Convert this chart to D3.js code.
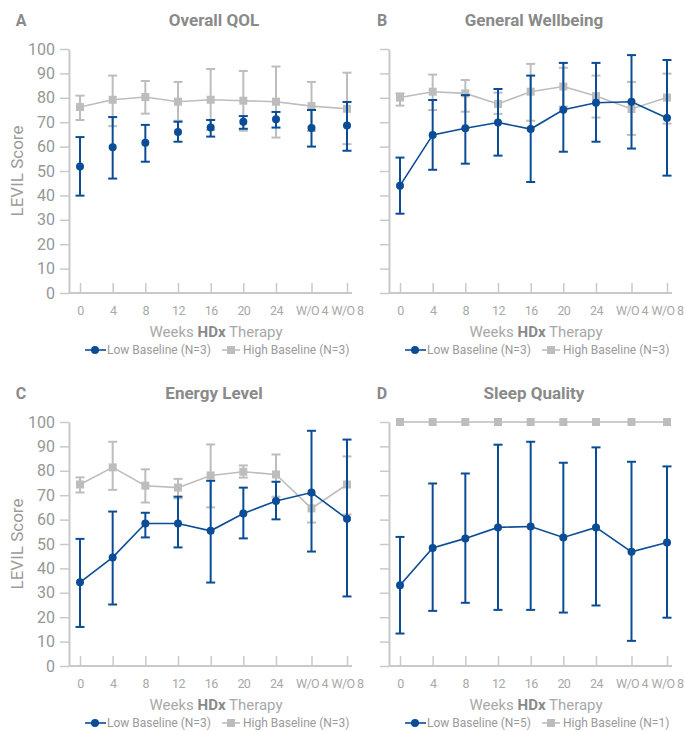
<!DOCTYPE html>
<html>
<head>
<meta charset="utf-8">
<script src="https://cdn.jsdelivr.net/npm/d3@7"></script>
<style>
  body { margin: 0; background: #fff; }
  svg { display: block; }
</style>
</head>
<body>
<div id="chart"></div>
<script>
// LEVIL scores over weeks of HDx therapy, low vs high baseline groups

const WEEKS = ["0", "4", "8", "12", "16", "20", "24", "W/O 4", "W/O 8"];
const Y_TICKS = [0, 10, 20, 30, 40, 50, 60, 70, 80, 90, 100];

// A - Overall QOL
const qolLow = [51.8, 59.7, 61.6, 66.0, 67.8, 70.2, 71.2, 67.6, 68.6];
const qolLowLo = [39.9, 46.9, 53.8, 62.0, 64.1, 67.3, 67.8, 60.0, 58.3];
const qolLowHi = [63.9, 72.1, 68.9, 70.2, 70.9, 72.5, 74.2, 75.0, 78.3];
const qolHigh = [76.2, 79.2, 80.3, 78.4, 79.2, 78.8, 78.4, 76.6, 75.5];
const qolHighLo = [70.9, 68.4, 73.5, 70.6, 66.8, 66.5, 63.7, 66.4, 61.0];
const qolHighHi = [80.9, 89.1, 86.9, 86.5, 91.8, 91.0, 92.8, 86.5, 90.3];

// B - General Wellbeing
const gwLow = [44.0, 64.8, 67.5, 69.9, 67.2, 75.1, 78.0, 78.4, 71.7];
const gwLowLo = [32.5, 50.5, 53.0, 56.3, 45.5, 57.9, 62.0, 59.2, 48.1];
const gwLowHi = [55.5, 79.1, 81.1, 83.6, 89.1, 94.3, 94.3, 97.5, 95.5];
const gwHigh = [80.1, 82.5, 81.8, 77.5, 82.5, 84.6, 80.7, 75.4, 80.1];
const gwHighLo = [76.8, 75.0, 74.3, 73.4, 70.6, 76.4, 71.9, 64.8, 69.4];
const gwHighHi = [81.8, 89.5, 87.3, 82.1, 93.9, 92.3, 89.1, 86.5, 89.9];

// C - Energy Level
const enLow = [34.3, 44.5, 58.4, 58.4, 55.4, 62.5, 67.6, 71.1, 60.3];
const enLowLo = [16.0, 25.2, 52.7, 48.6, 34.2, 52.3, 60.1, 46.9, 28.5];
const enLowHi = [52.1, 63.3, 62.8, 69.4, 75.9, 73.1, 75.5, 96.4, 92.8];
const enHigh = [74.4, 81.4, 73.9, 73.1, 78.1, 79.6, 78.5, 64.6, 74.4];
const enHighLo = [71.1, 72.2, 67.0, 68.7, 65.0, 77.2, 69.4, 58.8, 62.1];
const enHighHi = [77.3, 91.9, 80.6, 76.7, 90.8, 82.2, 86.7, 70.4, 85.9];

// D - Sleep Quality
const slLow = [33.1, 48.4, 52.3, 56.8, 57.2, 52.7, 56.8, 46.8, 50.6];
const slLowLo = [13.3, 22.6, 25.9, 23.0, 23.0, 21.9, 24.8, 10.3, 19.8];
const slLowHi = [52.9, 74.8, 78.9, 90.7, 91.9, 83.3, 89.6, 83.7, 81.8];
const slHigh = [100, 100, 100, 100, 100, 100, 100, 100, 100];

const BLUE = "#0b4c96";
const GREY = "#bdbdbd";
const AXIS = "#c9c9c9";
const FONT = "Roboto, 'Open Sans', sans-serif";

function rows(mean, lo, hi) {
    return WEEKS.map((w, i) => ({
        i: i,
        v: mean[i],
        lo: lo ? lo[i] : null,
        hi: hi ? hi[i] : null
    }));
}

const panels = [
    { letter: "A", title: "Overall QOL", col: 0, row: 0, nLow: 3, nHigh: 3, joinLow: false,
      low: rows(qolLow, qolLowLo, qolLowHi), high: rows(qolHigh, qolHighLo, qolHighHi) },
    { letter: "B", title: "General Wellbeing", col: 1, row: 0, nLow: 3, nHigh: 3, joinLow: true,
      low: rows(gwLow, gwLowLo, gwLowHi), high: rows(gwHigh, gwHighLo, gwHighHi) },
    { letter: "C", title: "Energy Level", col: 0, row: 1, nLow: 3, nHigh: 3, joinLow: true,
      low: rows(enLow, enLowLo, enLowHi), high: rows(enHigh, enHighLo, enHighHi) },
    { letter: "D", title: "Sleep Quality", col: 1, row: 1, nLow: 5, nHigh: 1, joinLow: true,
      low: rows(slLow, slLowLo, slLowHi), high: rows(slHigh, null, null) }
];

const svg = d3.select("#chart").append("svg")
    .attr("width", 684)
    .attr("height", 731)
    .style("font-family", FONT);

const lefts = [69, 389];
const tops = [49, 422];
const letterOffset = [-48, -7];
const height = 244;

panels.forEach(p => {
    const left = lefts[p.col];
    const top = tops[p.row];
    const g = svg.append("g").attr("transform", `translate(${left},${top})`);

    // therapy weeks evenly spaced, the two wash-out points a little wider apart
    const x = d3.scaleLinear().domain([0, 6, WEEKS.length - 1]).range([11, 207, 278]);
    const y = d3.scaleLinear().domain([0, 100]).range([height, 0]);

    // y axis
    const ya = g.append("g")
        .call(d3.axisLeft(y).tickValues(Y_TICKS).tickSize(9).tickSizeOuter(0).tickPadding(5)
            .tickFormat(p.col === 0 ? d => d : () => ""));
    ya.select(".domain").attr("stroke", AXIS).attr("stroke-width", 2);
    ya.selectAll(".tick line").attr("stroke", AXIS).attr("stroke-width", 1.5);
    ya.selectAll(".tick text")
        .style("font-size", "16px")
        .style("font-family", FONT)
        .attr("fill", "#979797");

    // x axis, ticks point up into the plot
    const xa = g.append("g")
        .attr("transform", `translate(0,${height})`)
        .call(d3.axisBottom(x).tickValues(d3.range(WEEKS.length)).tickFormat(i => WEEKS[i])
            .tickSize(-10).tickSizeOuter(0).tickPadding(13));
    xa.select(".domain").remove();
    xa.selectAll(".tick line").attr("stroke", AXIS).attr("stroke-width", 1.5);
    xa.selectAll(".tick text")
        .style("font-size", "12.5px")
        .style("font-family", FONT)
        .style("letter-spacing", "-0.6px")
        .attr("fill", "#a8a8a8");
    xa.append("line")
        .attr("x1", 0)
        .attr("x2", x.range()[2] + 5)
        .attr("stroke", AXIS)
        .attr("stroke-width", 2);

    // titles
    g.append("text")
        .attr("x", letterOffset[p.col])
        .attr("y", -23.5)
        .attr("text-anchor", "middle")
        .attr("fill", "#8a8a8a")
        .style("font-size", "16px")
        .style("font-weight", "bold")
        .text(p.letter);
    g.append("text")
        .attr("x", 145)
        .attr("y", -23.5)
        .attr("text-anchor", "middle")
        .attr("fill", "#8a8a8a")
        .style("font-size", "17px")
        .style("font-weight", "bold")
        .text(p.title);

    const xt = g.append("text")
        .attr("x", 147)
        .attr("y", height + 43.5)
        .attr("text-anchor", "middle")
        .attr("fill", "#a8a8a8")
        .style("font-size", "15px");
    xt.append("tspan").text("Weeks ");
    xt.append("tspan").attr("fill", "#8a8a8a").style("font-weight", "bold").text("HDx");
    xt.append("tspan").text(" Therapy");

    if (p.col === 0) {
        g.append("text")
            .attr("transform", `translate(-46,${height / 2}) rotate(-90)`)
            .attr("text-anchor", "middle")
            .attr("fill", "#9c9c9c")
            .style("font-size", "17px")
            .text("LEVIL Score");
    }

    const line = d3.line().x(d => x(d.i)).y(d => y(d.v));

    function drawSeries(data, color, join, shape) {
        const bars = data.filter(d => d.lo !== null);
        const eg = g.append("g").attr("stroke", color).attr("stroke-width", 2);
        eg.selectAll(".bar").data(bars).enter().append("line")
            .attr("x1", d => x(d.i)).attr("x2", d => x(d.i))
            .attr("y1", d => y(d.lo)).attr("y2", d => y(d.hi));
        eg.selectAll(".capHi").data(bars).enter().append("line")
            .attr("x1", d => x(d.i) - 4.5).attr("x2", d => x(d.i) + 4.5)
            .attr("y1", d => y(d.hi)).attr("y2", d => y(d.hi));
        eg.selectAll(".capLo").data(bars).enter().append("line")
            .attr("x1", d => x(d.i) - 4.5).attr("x2", d => x(d.i) + 4.5)
            .attr("y1", d => y(d.lo)).attr("y2", d => y(d.lo));

        if (join) {
            g.append("path")
                .datum(data)
                .attr("fill", "none")
                .attr("stroke", color)
                .attr("stroke-width", 1.6)
                .attr("d", line);
        }

        if (shape === "circle") {
            g.selectAll(null).data(data).enter().append("circle")
                .attr("cx", d => x(d.i))
                .attr("cy", d => y(d.v))
                .attr("r", 4)
                .attr("fill", color);
        } else {
            g.selectAll(null).data(data).enter().append("rect")
                .attr("x", d => x(d.i) - 4)
                .attr("y", d => y(d.v) - 4)
                .attr("width", 8)
                .attr("height", 8)
                .attr("fill", color);
        }
    }

    drawSeries(p.high, GREY, true, "square");
    drawSeries(p.low, BLUE, p.joinLow, "circle");

    // legend
    const lg = g.append("g").attr("transform", `translate(0,${height + 57})`);
    lg.append("line").attr("x1", 16).attr("x2", 37).attr("stroke", BLUE).attr("stroke-width", 1.6);
    lg.append("circle").attr("cx", 26).attr("r", 4).attr("fill", BLUE);
    lg.append("text").attr("x", 38).attr("dy", "0.35em")
        .attr("fill", "#9a9a9a").style("font-size", "12px")
        .text(`Low Baseline (N=${p.nLow})`);
    lg.append("line").attr("x1", 153).attr("x2", 171).attr("stroke", GREY).attr("stroke-width", 1.6);
    lg.append("rect").attr("x", 158).attr("y", -4).attr("width", 8).attr("height", 8).attr("fill", GREY);
    lg.append("text").attr("x", 174).attr("dy", "0.35em")
        .attr("fill", "#9a9a9a").style("font-size", "12px")
        .text(`High Baseline (N=${p.nHigh})`);
});
</script>
</body>
</html>
